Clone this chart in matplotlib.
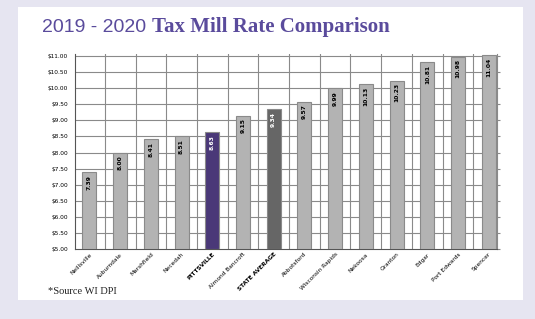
import numpy as np
import matplotlib.pyplot as plt

towns = ["Neillsville", "Auburndale", "Marshfield", "Necedah", "PITTSVILLE",
         "Almond Bancroft", "STATE AVERAGE", "Abbotsford", "Wisconsin Rapids",
         "Nekoosa", "Granton", "Edgar", "Port Edwards", "Spencer"]
rates = [7.39, 8.00, 8.41, 8.51, 8.63, 9.15, 9.34, 9.57, 9.99, 10.13,
         10.23, 10.81, 10.98, 11.04]
yticks = np.arange(5.0, 11.01, 0.5)

bg = "#e6e5f1"
purple = "#4a3878"
title_col = "#5a4b9c"

fig = plt.figure(figsize=(5.35, 3.19), dpi=100)
fig.patch.set_facecolor(bg)

# white panel behind the chart
panel = fig.add_axes([18 / 535, 1 - 300 / 319, (523 - 18) / 535, (300 - 7) / 319], zorder=-1)
panel.set_facecolor("white")
panel.set_xticks([])
panel.set_yticks([])
for s in panel.spines.values():
    s.set_visible(False)

ax = fig.add_axes([75 / 535, 70 / 319, (497 - 75) / 535, (249 - 54.4) / 319])
ax.set_facecolor("white")

x = np.arange(len(towns))
colors = []
for t in towns:
    if t == "PITTSVILLE":
        colors.append(purple)
    elif t == "STATE AVERAGE":
        colors.append("#666666")
    else:
        colors.append("#b3b3b3")

ax.bar(x, [r - 5 for r in rates], bottom=5, width=0.46, color=colors,
       edgecolor="#8a8a8a", linewidth=0.8, zorder=3)

for i, r in enumerate(rates):
    c = "white" if towns[i] in ("PITTSVILLE", "STATE AVERAGE") else "black"
    ax.text(i, r - 0.08, f"{r:.2f}", rotation=90, ha="center", va="top",
            fontsize=4.3, fontweight="bold", color=c, zorder=4)

ax.set_ylim(5, 11.05)
ax.set_xlim(-0.47, 13.27)
ax.set_yticks(yticks)
ax.set_yticklabels([f"${v:.2f}" for v in yticks], fontsize=4.2)
for v in yticks[1:]:
    ax.axhline(v, color="#8a8a8a", linewidth=0.8, zorder=1)
for b in np.arange(0.5, 13, 1):
    ax.axvline(b, color="#8a8a8a", linewidth=0.8, zorder=1)

ax.set_xticks(x)
ax.set_xticklabels(towns, rotation=45, ha="right", rotation_mode="anchor", fontsize=4.2)
for lbl in ax.get_xticklabels():
    if lbl.get_text() in ("PITTSVILLE", "STATE AVERAGE"):
        lbl.set_fontweight("bold")
ax.tick_params(axis="both", length=0, pad=3)
ax.tick_params(axis="x", pad=2)
ax.tick_params(axis="y", right=True, length=2, color="#8a8a8a", direction="out")
ax.tick_params(axis="y", left=False)
ax.spines["top"].set_visible(False)
ax.spines["right"].set_color("#8a8a8a")
ax.spines["right"].set_linewidth(0.8)
ax.spines["left"].set_color("#555555")
ax.spines["bottom"].set_color("#555555")
ax.spines["left"].set_linewidth(0.8)
ax.spines["bottom"].set_linewidth(0.8)

t1 = fig.text(42 / 535, 1 - 27 / 319, "2019 - 2020 ", fontsize=14, color=title_col,
              family="Liberation Sans", va="center", ha="left")
fig.canvas.draw()
bb = t1.get_window_extent()
fig.text(bb.x1 / fig.bbox.width, 1 - 27 / 319, "Tax Mill Rate Comparison", fontsize=15,
         color=title_col, family="Liberation Serif", fontweight="bold", va="center", ha="left")

fig.text(48 / 535, 1 - 292 / 319, "*Source WI DPI", fontsize=7.5, family="Liberation Serif",
         color="#222222", va="center", ha="left")

fig.savefig("out.png", dpi=100, facecolor=bg)
